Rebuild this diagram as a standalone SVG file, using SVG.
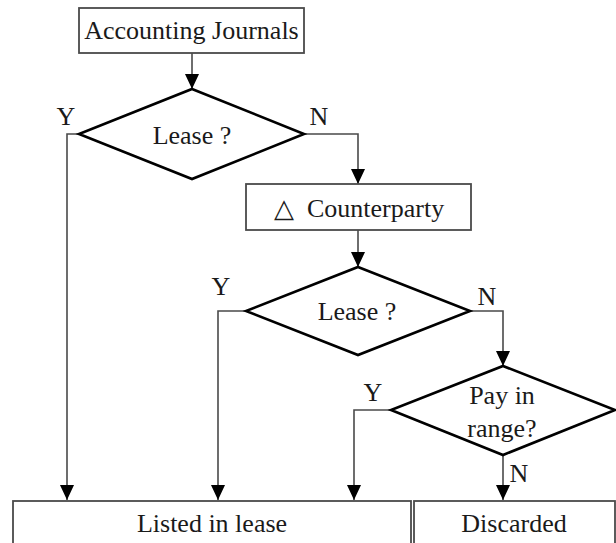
<svg xmlns="http://www.w3.org/2000/svg" width="616" height="543" viewBox="0 0 616 543">
<style>
text { font-family: "Liberation Serif", "Times New Roman", serif; font-size: 26px; fill: #1a1a1a; }
.c { text-anchor: middle; }
.box { fill: #ffffff; stroke: #4a4a4a; stroke-width: 1.8; }
.dia { fill: #ffffff; stroke: #000000; stroke-width: 2.6; stroke-linejoin: miter; }
.conn { fill: none; stroke: #4a4a4a; stroke-width: 1.6; }
.arr { marker-end: url(#ah); }
</style>
<defs>
<marker id="ah" markerUnits="userSpaceOnUse" markerWidth="15" markerHeight="14" viewBox="0 0 15 14" refX="15" refY="7" orient="auto">
<path d="M0,0 L15,7 L0,14 z" fill="#000000"/>
</marker>
</defs>
<rect width="616" height="543" fill="#ffffff"/>
<g id="connectors">
<line class="conn arr" x1="192" y1="53" x2="192" y2="89"/>
<polyline class="conn arr" points="304,134 358,134 358,184"/>
<line class="conn arr" x1="358" y1="230" x2="358" y2="267"/>
<polyline class="conn arr" points="470,311 503,311 503,366"/>
<polyline class="conn arr" points="79,134 67,134 67,500"/>
<polyline class="conn arr" points="246,311 218,311 218,500"/>
<polyline class="conn arr" points="391,410 354,410 354,500"/>
<line class="conn arr" x1="503" y1="455" x2="503" y2="500"/>
<text class="c" x="66" y="125">Y</text>
<text class="c" x="319" y="125">N</text>
<text class="c" x="221" y="295">Y</text>
<text class="c" x="487" y="305">N</text>
<text class="c" x="373" y="401">Y</text>
<text class="c" x="519" y="482">N</text>
</g>
<g id="accounting-journals">
<rect class="box" x="79" y="8" width="225" height="45"/>
<text class="c" x="191.5" y="39">Accounting Journals</text>
</g>
<g id="lease-1">
<polygon class="dia" points="192,89 304,134 192,179 79,134"/>
<text class="c" x="192" y="144">Lease ?</text>
</g>
<g id="counterparty">
<rect class="box" x="246" y="184" width="225" height="46"/>
<text class="c" x="284" y="217" style="font-family: 'DejaVu Sans', sans-serif; font-size: 26px;">△</text>
<text x="307" y="216.5">Counterparty</text>
</g>
<g id="lease-2">
<polygon class="dia" points="358,267 470,311 358,355 246,311"/>
<text class="c" x="357" y="320">Lease ?</text>
</g>
<g id="pay-in-range">
<polygon class="dia" points="503,366 615,410 503,455 391,410"/>
<text class="c" x="502" y="404">Pay in</text>
<text class="c" x="502" y="437">range?</text>
</g>
<g id="listed-in-lease">
<rect class="box" x="13" y="501" width="398" height="50"/>
<text class="c" x="212" y="532">Listed in lease</text>
</g>
<g id="discarded">
<rect class="box" x="414" y="501" width="201" height="50"/>
<text class="c" x="514" y="532">Discarded</text>
</g>
</svg>
